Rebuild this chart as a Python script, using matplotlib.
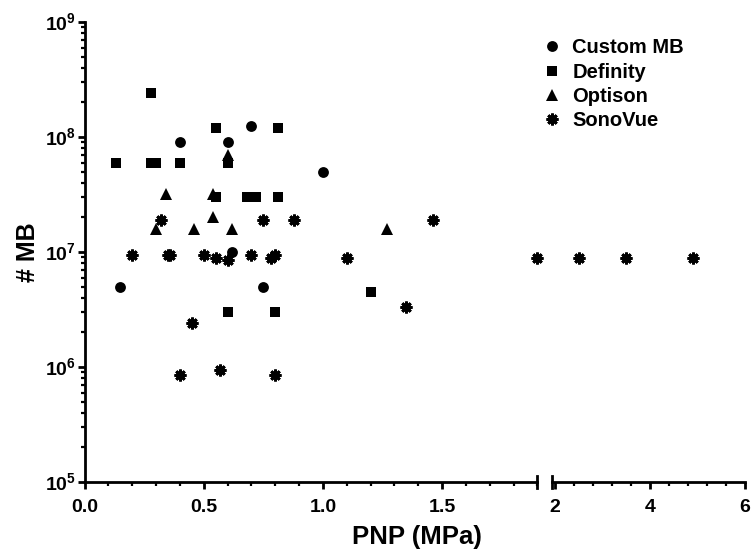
import numpy as np
import matplotlib
matplotlib.use("Agg")
import matplotlib.pyplot as plt
from matplotlib.ticker import FixedLocator, MultipleLocator, LogLocator, NullFormatter

plt.rcParams['font.family'] = ['Liberation Sans', 'DejaVu Sans']
plt.rcParams['font.weight'] = 'bold'
plt.rcParams['mathtext.fontset'] = 'custom'
plt.rcParams['mathtext.rm'] = 'Liberation Sans:bold'
plt.rcParams['mathtext.bf'] = 'Liberation Sans:bold'

# data
custom_x = [0.15, 0.40, 0.60, 0.70, 0.62, 0.75, 1.00]
custom_y = [5e6, 9e7, 9e7, 1.25e8, 1e7, 5e6, 5e7]

definity_x = [0.13, 0.28, 0.30, 0.28, 0.40, 0.55, 0.60, 0.81, 0.55, 0.68, 0.72, 0.81, 1.20, 0.60, 0.80]
definity_y = [6e7, 6e7, 6e7, 2.4e8, 6e7, 1.2e8, 6e7, 1.2e8, 3e7, 3e7, 3e7, 3e7, 4.5e6, 3e6, 3e6]

optison_x = [0.34, 0.54, 0.30, 0.46, 0.54, 0.62, 0.60, 1.27]
optison_y = [3.2e7, 3.2e7, 1.6e7, 1.6e7, 2e7, 1.6e7, 7e7, 1.6e7]

sonovue_x = [0.32, 0.75, 0.88, 1.46, 0.20, 0.35, 0.36, 0.50, 0.55, 0.60, 0.70, 0.78, 0.80,
             1.10, 0.45, 0.40, 0.57, 0.80, 1.35, 1.90, 2.5, 3.5, 4.9]
sonovue_y = [1.9e7, 1.9e7, 1.9e7, 1.9e7, 9.5e6, 9.5e6, 9.5e6, 9.5e6, 8.8e6, 8.5e6, 9.5e6, 8.8e6, 9.5e6,
             8.8e6, 2.4e6, 8.5e5, 9.5e5, 8.5e5, 3.3e6, 8.8e6, 8.8e6, 8.8e6, 8.8e6]

series = [
    ("Custom MB", custom_x, custom_y, dict(marker='o', ms=7.8, mew=0)),
    ("Definity", definity_x, definity_y, dict(marker='s', ms=7.4, mew=0)),
    ("Optison", optison_x, optison_y, dict(marker='^', ms=8.2, mew=0)),
    ("SonoVue", sonovue_x, sonovue_y, dict(marker=(8, 2, 0), ms=8.5, mew=2.0)),
]

split = 1.9

fig = plt.figure(figsize=(7.54, 5.5), dpi=100)
ax1 = fig.add_axes([84.6 / 754, 68 / 550, (537.5 - 84.6) / 754, 460 / 550])
ax2 = fig.add_axes([552 / 754, 68 / 550, (745 - 552) / 754, 460 / 550], sharey=ax1)

for name, xs, ys, st in series:
    xs = np.array(xs)
    ys = np.array(ys)
    m = xs <= split
    ax1.plot(xs[m], ys[m], ls='none', color='black', mec='black', label=name, clip_on=False, **st)
    if (~m).any():
        ax2.plot(xs[~m], ys[~m], ls='none', color='black', mec='black', clip_on=False, **st)

ax1.set_yscale('log')
ax1.set_ylim(1e5, 1e9)
ax1.set_xlim(0, split)
ax2.set_xlim(1.94, 6)

for ax in (ax1, ax2):
    ax.spines['top'].set_visible(False)
    ax.spines['right'].set_visible(False)
    for s in ('left', 'bottom'):
        ax.spines[s].set_linewidth(2)
    ax.tick_params(axis='both', which='major', width=2, length=5, labelsize=14)
    ax.tick_params(axis='both', which='minor', width=1.6, length=3)
    ax.tick_params(axis='x', which='major', pad=7)
    ax.tick_params(axis='y', which='major', pad=1)

ax1.yaxis.set_major_locator(FixedLocator([1e5, 1e6, 1e7, 1e8, 1e9]))
ax1.set_yticklabels([r'$10^{5}$', r'$10^{6}$', r'$10^{7}$', r'$10^{8}$', r'$10^{9}$'])
ax1.yaxis.set_minor_locator(LogLocator(base=10, subs=np.arange(2, 10)))
ax1.yaxis.set_minor_formatter(NullFormatter())

ax1.xaxis.set_major_locator(FixedLocator([0.0, 0.5, 1.0, 1.5]))
ax1.set_xticklabels(['0.0', '0.5', '1.0', '1.5'])
ax1.xaxis.set_minor_locator(MultipleLocator(0.1))

ax2.spines['left'].set_visible(False)
ax2.tick_params(axis='y', which='both', left=False, labelleft=False)
ax2.xaxis.set_major_locator(FixedLocator([2, 4, 6]))
ax2.set_xticklabels(['2', '4', '6'])
ax2.xaxis.set_minor_locator(FixedLocator([2.4, 2.8, 3.2, 3.6, 4.4, 4.8, 5.2, 5.6]))

# end caps of the broken axis
for ax, xv in ((ax1, split), (ax2, 1.94)):
    ax.plot([xv, xv], [-0.012, 0.012], color='black', lw=2, transform=ax.get_xaxis_transform(), clip_on=False)

ax1.set_ylabel('# MB', fontsize=18, fontweight='bold', labelpad=4)
fig.text(417 / 754, 1 / 550, 'PNP (MPa)', fontsize=18.5, fontweight='bold', ha='center', va='bottom')

fig.legend(loc='upper left', bbox_to_anchor=(524 / 754, 1 - 20 / 550), frameon=False,
           handletextpad=0.5, labelspacing=0.27, handlelength=1.0,
           prop={'weight': 'bold', 'size': 14.5})

fig.savefig('out.png', dpi=100)
